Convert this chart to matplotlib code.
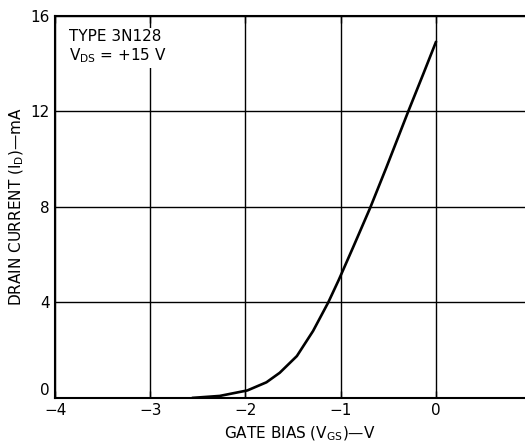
import matplotlib
matplotlib.use("Agg")
from matplotlib import pyplot as plt
import numpy as np

# transfer characteristic
gate_bias = [-2.55, -2.27, -1.98, -1.78, -1.64, -1.46, -1.29, -1.13, -1.02,
             -0.87, -0.69, -0.52, -0.29, -0.13, 0.0]
drain_current = [0.0, 0.08, 0.31, 0.65, 1.05, 1.75, 2.8, 4.0, 4.94,
                 6.3, 7.96, 9.65, 12.0, 13.59, 14.9]

x_ticks = [-4, -3, -2, -1, 0]
x_tick_labels = ["\u22124", "\u22123", "\u22122", "\u22121", "0"]
y_ticks = [0, 4, 8, 12, 16]

plt.rcParams["font.family"] = ["DejaVu Sans"]

fig = plt.figure(figsize=(5.25, 4.45), dpi=100)
ax = fig.add_axes([0.105, 0.106, 0.895, 0.858])

ax.set_xlim(-4, 0.937)
ax.set_ylim(0, 16)
ax.set_xticks(x_ticks)
ax.set_xticklabels(x_tick_labels)
ax.set_yticks(y_ticks)

ax.grid(True, color="black", linewidth=1.0)
ax.set_axisbelow(True)
ax.tick_params(axis="both", length=0, labelsize=11, pad=4)
ax.tick_params(axis="x", top=True, direction="in", length=5, width=1.0)

# the "0" on the y axis sits just above the corner, clear of the "-4"
ax.get_yticklabels()[0].set_va("bottom")

for side in ["left", "bottom", "top"]:
    ax.spines[side].set_linewidth(1.5)
ax.spines["right"].set_visible(False)

ax.plot(gate_bias, drain_current, color="black", linewidth=1.9,
        solid_joinstyle="round", zorder=3)

ax.text(0.03, 0.965, "TYPE 3N128\nV$_{\\mathrm{DS}}$ = +15 V", transform=ax.transAxes,
        ha="left", va="top", fontsize=11, linespacing=1.15,
        bbox=dict(facecolor="white", edgecolor="none", pad=2), zorder=4)

ax.set_xlabel("GATE BIAS (V$_{\\mathrm{GS}}$)\u2014V", fontsize=11)
ax.xaxis.set_label_coords(0.52, -0.07)
ax.set_ylabel("DRAIN CURRENT (I$_{\\mathrm{D}}$)\u2014mA", fontsize=11)
ax.yaxis.set_label_coords(-0.063, 0.5)

fig.savefig("out.png", dpi=100)
